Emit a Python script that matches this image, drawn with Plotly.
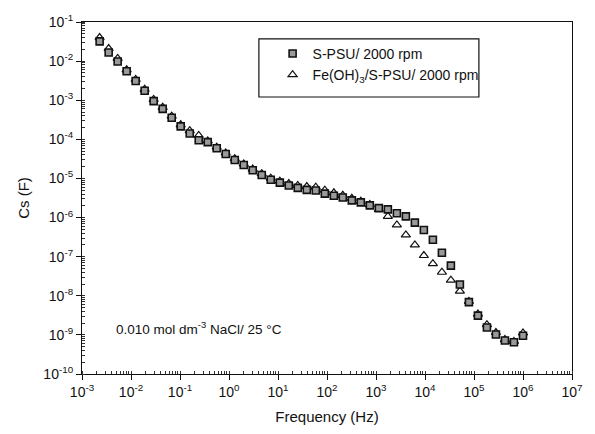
import plotly.graph_objects as go

freq_hz = [0.00229, 0.00350, 0.00534, 0.00815, 0.01245, 0.0190, 0.0290, 0.0443,
           0.0677, 0.1033, 0.158, 0.241, 0.368, 0.561, 0.857, 1.31, 2.00, 3.05,
           4.66, 7.11, 10.9, 16.6, 25.3, 38.7, 59.0, 90.2, 138, 210, 321, 490,
           748, 1143, 1745, 2665, 4068, 6210, 9480, 14490, 22130, 33760, 51530,
           78700, 120200, 183500, 280000, 427600, 653000, 1000000]

cs_spsu = [3.2e-2, 1.66e-2, 9.8e-3, 5.5e-3, 3.1e-3, 1.74e-3, 9.5e-4, 6.0e-4,
           3.55e-4, 2.14e-4, 1.41e-4, 9.5e-5, 8.5e-5, 5.9e-5, 4.2e-5, 2.95e-5,
           2.2e-5, 1.62e-5, 1.23e-5, 9.3e-6, 7.8e-6, 6.6e-6, 5.75e-6, 5.1e-6,
           4.9e-6, 4.1e-6, 3.6e-6, 3.25e-6, 2.75e-6, 2.45e-6, 2.05e-6, 1.74e-6,
           1.62e-6, 1.29e-6, 1.07e-6, 7.4e-7, 4.8e-7, 2.7e-7, 1.26e-7, 5.9e-8,
           1.95e-8, 6.9e-9, 3.1e-9, 1.55e-9, 1.02e-9, 7.2e-10, 6.5e-10, 9.5e-10]

cs_feoh = [4.0e-2, 2.1e-2, 1.17e-2, 6.0e-3, 3.4e-3, 1.9e-3, 1.05e-3, 6.6e-4,
           3.9e-4, 2.35e-4, 1.66e-4, 1.26e-4, 9.1e-5, 6.3e-5, 4.5e-5, 3.2e-5,
           2.35e-5, 1.74e-5, 1.32e-5, 1.02e-5, 8.5e-6, 7.4e-6, 6.6e-6, 6.2e-6,
           6.0e-6, 5.0e-6, 4.3e-6, 3.7e-6, 3.1e-6, 2.6e-6, 2.15e-6, 1.62e-6,
           1.07e-6, 6.5e-7, 3.6e-7, 2.0e-7, 1.07e-7, 6.6e-8, 4.0e-8, 2.5e-8,
           1.32e-8, 7.2e-9, 3.4e-9, 1.82e-9, 1.15e-9, 7.6e-10, 6.8e-10, 1.12e-9]

x_tick_exponents = [-3, -2, -1, 0, 1, 2, 3, 4, 5, 6, 7]
y_tick_exponents = [-10, -9, -8, -7, -6, -5, -4, -3, -2, -1]

name_spsu = "S-PSU/ 2000 rpm"
name_feoh = "Fe(OH)<sub>3</sub>/S-PSU/ 2000 rpm"
note_text = "0.010 mol dm<sup>-3</sup> NaCl/ 25 °C"

FONT = "Liberation Sans, Arial, sans-serif"

fig = go.Figure()
fig.add_trace(go.Scatter(
    x=freq_hz, y=cs_feoh, mode="markers", name=name_feoh, legendrank=2,
    marker=dict(symbol="triangle-up", size=8, color="white",
                line=dict(color="#111111", width=1.2)),
))
fig.add_trace(go.Scatter(
    x=freq_hz, y=cs_spsu, mode="markers", name=name_spsu, legendrank=1,
    marker=dict(symbol="square", size=7, color="#9a9a9a",
                line=dict(color="#111111", width=1.6)),
))

axis_common = dict(
    type="log",
    showline=True, linecolor="#111111", linewidth=1.2, mirror=True,
    showgrid=False, zeroline=False,
    ticks="outside", ticklen=5, tickcolor="#111111", tickwidth=1,
    minor=dict(ticks="inside", ticklen=3, tickcolor="#333333", showgrid=False,
               dtick="D1"),
    tickfont=dict(family=FONT, size=14, color="#111111"),
)

fig.update_xaxes(**axis_common, range=[-3, 7],
                 tickmode="array",
                 tickvals=[10.0 ** e for e in x_tick_exponents],
                 ticktext=[f"10<sup>{e}</sup>" for e in x_tick_exponents],
                 title=dict(text="Frequency (Hz)", standoff=12,
                            font=dict(family=FONT, size=15, color="#111111")))
fig.update_yaxes(**axis_common, range=[-10, -1],
                 tickmode="array",
                 tickvals=[10.0 ** e for e in y_tick_exponents],
                 ticktext=[f"10<sup>{e}</sup>" for e in y_tick_exponents],
                 title=dict(text="Cs (F)", standoff=10,
                            font=dict(family=FONT, size=15, color="#111111")))

fig.add_annotation(text=note_text, x=0.066, y=0.13, xref="paper", yref="paper",
                   xanchor="left", yanchor="middle", showarrow=False,
                   font=dict(family=FONT, size=13.5, color="#111111"))

# legend frame
fig.add_shape(type="rect", xref="paper", yref="paper",
              x0=0.361, x1=0.810, y0=0.787, y1=0.952,
              line=dict(color="#111111", width=1.2), fillcolor="white", layer="below")

fig.update_layout(
    width=595, height=434,
    margin=dict(l=82, r=14, t=17, b=60),
    paper_bgcolor="white", plot_bgcolor="white",
    showlegend=True,
    legend=dict(x=0.389, y=0.955, xanchor="left", yanchor="top",
                borderwidth=0, bgcolor="rgba(0,0,0,0)",
                font=dict(family=FONT, size=14, color="#111111"),
                tracegroupgap=0),
)

fig.write_html("out.html")
